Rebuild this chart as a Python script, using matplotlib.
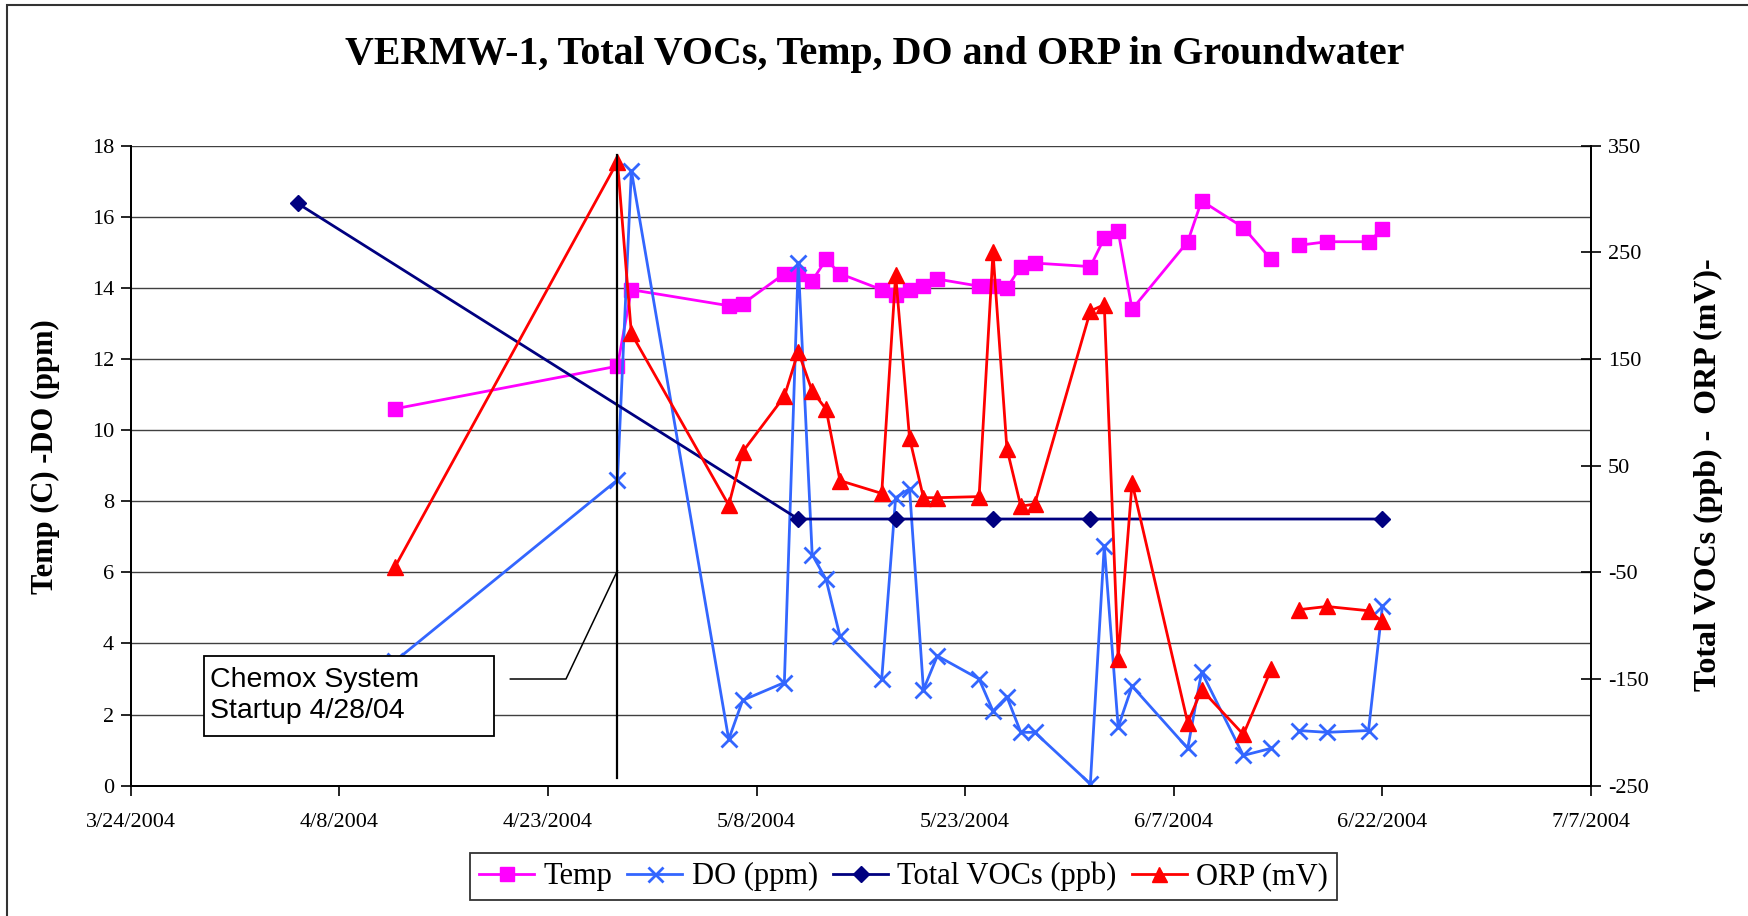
import matplotlib
matplotlib.use("Agg")
import matplotlib.pyplot as plt
import matplotlib.dates as mdates
from matplotlib.patches import Rectangle
import numpy as np
import pandas as pd

# sampling dates shared by Temp, DO and ORP (6/15 has no readings -> gap)
dates = ["2004-04-12", "2004-04-28", "2004-04-29", "2004-05-06", "2004-05-07",
         "2004-05-10", "2004-05-11", "2004-05-12", "2004-05-13", "2004-05-14",
         "2004-05-17", "2004-05-18", "2004-05-19", "2004-05-20", "2004-05-21",
         "2004-05-24", "2004-05-25", "2004-05-26", "2004-05-27", "2004-05-28",
         "2004-06-01", "2004-06-02", "2004-06-03", "2004-06-04", "2004-06-08",
         "2004-06-09", "2004-06-12", "2004-06-14", "2004-06-15", "2004-06-16",
         "2004-06-18", "2004-06-21", "2004-06-22"]
temp = [10.6, 11.8, 13.95, 13.5, 13.55, 14.4, 14.4, 14.2, 14.8, 14.4,
        13.95, 13.8, 13.95, 14.05, 14.25, 14.05, 14.05, 14.0, 14.6, 14.7,
        14.6, 15.4, 15.6, 13.4, 15.3, 16.45, 15.7, 14.8, np.nan, 15.2,
        15.3, 15.3, 15.65]
do_ppm = [3.5, 8.6, 17.3, 1.3, 2.4, 2.9, 14.7, 6.5, 5.8, 4.2,
          3.0, 8.1, 8.35, 2.7, 3.65, 3.0, 2.1, 2.5, 1.5, 1.5,
          0.05, 6.75, 1.65, 2.8, 1.05, 3.2, 0.85, 1.05, np.nan, 1.55,
          1.5, 1.55, 5.05]
orp = [-45, 335, 174, 13, 63, 115, 157, 120, 103, 36,
       24, 229, 76, 20, 20, 21, 250, 66, 12, 14,
       195, 201, -131, 34, -191, -160, -202, -141, np.nan, -85,
       -82, -86, -96]

voc_dates = ["2004-04-05", "2004-05-11", "2004-05-18", "2004-05-25", "2004-06-01", "2004-06-22"]
voc = [296, 0, 0, 0, 0, 0]

startup = "2004-04-28"
x_start, x_end = "2004-03-24", "2004-07-07"

d = pd.to_datetime(dates)
vd = pd.to_datetime(voc_dates)
su = pd.Timestamp(startup)

plt.rcParams["font.family"] = "Liberation Serif"
plt.rcParams["axes.unicode_minus"] = False

fig = plt.figure(figsize=(17.49, 9.16), dpi=100)
ax = fig.add_axes([0.0747, 0.1423, 0.8350, 0.6986])
ax2 = ax.twinx()

c_temp, c_do, c_voc, c_orp = "#FF00FF", "#3366FF", "#000080", "#FF0000"

l1, = ax.plot(d, temp, "-s", color=c_temp, lw=2, ms=10.5, label="Temp")
l2, = ax.plot(d, do_ppm, "-x", color=c_do, lw=2, ms=12, mew=2, label="DO (ppm)")
l3, = ax2.plot(vd, voc, "-D", color=c_voc, lw=2, ms=8.5, label="Total VOCs (ppb)")
l4, = ax2.plot(d, orp, "-^", color=c_orp, lw=2, ms=12, label="ORP (mV)")

ax.set_xlim(pd.Timestamp(x_start), pd.Timestamp(x_end))
ax.set_ylim(0, 18)
ax.set_yticks(np.arange(0, 19, 2))
ax2.set_ylim(-250, 350)
ax2.set_yticks(np.arange(-250, 351, 100))
ax.set_xticks(pd.date_range(x_start, x_end, freq="15D"))
ax.xaxis.set_major_formatter(plt.FuncFormatter(
    lambda v, p: "{0.month}/{0.day}/{0.year}".format(mdates.num2date(v))))

ax.yaxis.grid(True, color="#404040", lw=1)
ax.set_axisbelow(True)
for a in (ax, ax2):
    a.spines["top"].set_visible(False)
    for s in ("left", "right", "bottom"):
        a.spines[s].set_linewidth(1.3)
ax.tick_params(axis="y", direction="out", length=7, width=1.2, labelsize=16, pad=5)
ax.tick_params(axis="x", direction="out", length=7, width=1.2, labelsize=16, pad=13)
ax2.tick_params(axis="y", direction="inout", length=14, width=1.2, labelsize=16, pad=5)

# startup marker line and callout
ax2.axvline(su, ymin=0.012, ymax=0.985, color="black", lw=1.6)
ax2.plot([su - pd.Timedelta(days=7.7), su - pd.Timedelta(days=3.7), su], [3.0, 3.0, 6.05],
         color="black", lw=1.1, transform=ax.transData)
ax2.add_patch(Rectangle((0.0502, 0.0777), 0.1986, 0.125, transform=ax2.transAxes,
                        facecolor="white", edgecolor="black", lw=1.3, zorder=5))
ax2.text(0.0543, 0.141, "Chemox System\nStartup 4/28/04", transform=ax2.transAxes,
         ha="left", va="center", fontsize=20.5, family="Liberation Sans",
         linespacing=1.25, zorder=6)

fig.text(0.5, 0.941, "VERMW-1, Total VOCs, Temp, DO and ORP in Groundwater",
         ha="center", va="center", fontsize=28.7, fontweight="bold")
fig.text(45 / 1749, 1 - 457 / 916, "Temp (C) -DO (ppm)", rotation=90,
         ha="center", va="center", fontsize=22, fontweight="bold")
fig.text(1708 / 1749, 1 - 475 / 916, "Total VOCs (ppb) -  ORP (mV)-", rotation=90,
         ha="center", va="center", fontsize=23, fontweight="bold")

leg = fig.legend(handles=[l1, l2, l3, l4], loc="center", bbox_to_anchor=(0.5166, 0.0431),
                 ncol=4, fontsize=22, frameon=True, fancybox=False, edgecolor="black",
                 handlelength=1.8, handletextpad=0.3, columnspacing=0.5,
                 borderpad=0.3, markerscale=0.9)
leg.get_frame().set_linewidth(1.3)

# outer chart border (left and top edges visible)
fig.add_artist(Rectangle((7 / 1749, -0.1), 1.2, 1.1 - 5 / 916, transform=fig.transFigure,
                         fill=False, edgecolor="#333333", lw=1.5))

fig.savefig("out.png", dpi=100)
